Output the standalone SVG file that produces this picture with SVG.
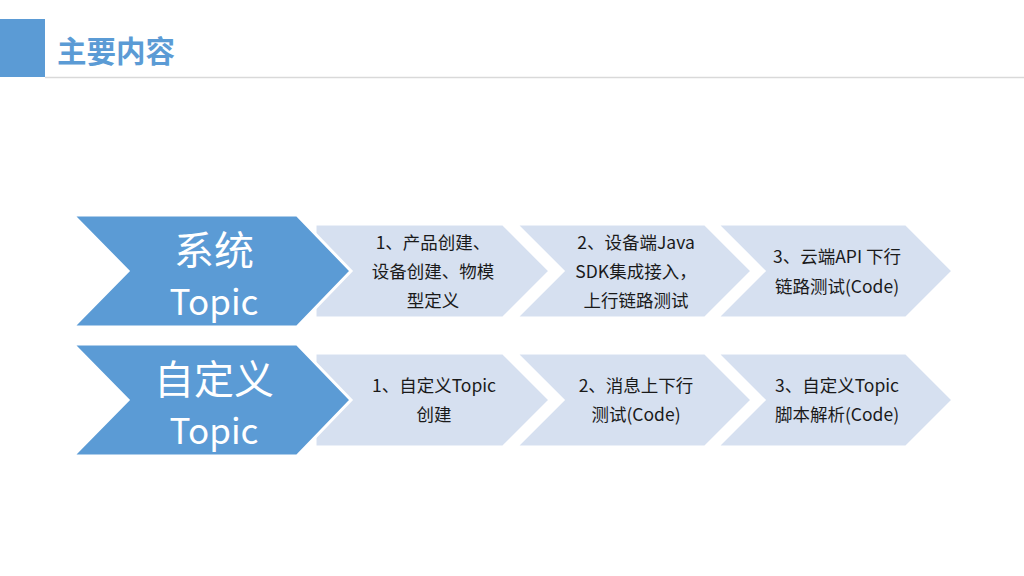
<svg xmlns="http://www.w3.org/2000/svg" width="1024" height="576" viewBox="0 0 1024 576">
<style>
.big{fill:#5B9BD5;stroke:#FFFFFF;stroke-width:3;stroke-linejoin:miter}
.lt{fill:#D6E0F0;stroke:#FFFFFF;stroke-width:3;stroke-linejoin:miter}
.bt{font-family:"Noto Sans CJK SC","Open Sans",sans-serif;fill:#FFFFFF;text-anchor:middle}
.st{font-family:"Noto Sans CJK SC",sans-serif;font-size:17.5px;fill:#1A1A1A;text-anchor:middle}
.title{font-family:"Noto Sans CJK SC",sans-serif;font-size:29.5px;font-weight:bold;fill:#5B9BD5}
</style>
<rect x="0" y="19" width="45" height="58" fill="#5B9BD5"/>
<line x1="45" y1="77.5" x2="1024" y2="77.5" stroke="#D9D9D9" stroke-width="1.5"/>
<text class="title" x="57" y="62">主要内容</text>

<g id="connectors"></g>

<g id="row1-step1">
<polygon class="lt" points="315,224 503,224 550,271 503,318 315,318"/>
<text class="st" x="433" y="249">1、产品创建、</text>
<text class="st" x="433" y="278">设备创建、物模</text>
<text class="st" x="433" y="307">型定义</text>
</g>
<g id="row1-step2">
<polygon class="lt" points="516,224 705,224 752,271 705,318 516,318 563,271"/>
<text class="st" x="636" y="249">2、设备端Java</text>
<text class="st" x="636" y="278">SDK集成接入，</text>
<text class="st" x="636" y="307">上行链路测试</text>
</g>
<g id="row1-step3">
<polygon class="lt" points="717,224 906,224 953,271 906,318 717,318 764,271"/>
<text class="st" x="837" y="263">3、云端API 下行</text>
<text class="st" x="837" y="293">链路测试(Code)</text>
</g>
<g id="row1-main">
<polygon class="big" points="73,215 297,215 351,271 297,327 73,327 128,271"/>
<text class="bt" x="214" y="265" font-size="40">系统</text>
<text class="bt" x="214" y="315" font-size="35">Topic</text>
</g>

<g id="row2-step1">
<polygon class="lt" points="315,353 503,353 550,400 503,447 315,447"/>
<text class="st" x="434" y="392">1、自定义Topic</text>
<text class="st" x="434" y="421">创建</text>
</g>
<g id="row2-step2">
<polygon class="lt" points="516,353 705,353 752,400 705,447 516,447 563,400"/>
<text class="st" x="636" y="392">2、消息上下行</text>
<text class="st" x="636" y="421">测试(Code)</text>
</g>
<g id="row2-step3">
<polygon class="lt" points="717,353 906,353 953,400 906,447 717,447 764,400"/>
<text class="st" x="837" y="392">3、自定义Topic</text>
<text class="st" x="837" y="421">脚本解析(Code)</text>
</g>
<g id="row2-main">
<polygon class="big" points="73,344 297,344 351,400 297,456 73,456 128,400"/>
<text class="bt" x="214" y="394" font-size="40">自定义</text>
<text class="bt" x="214" y="444" font-size="35">Topic</text>
</g>
</svg>
